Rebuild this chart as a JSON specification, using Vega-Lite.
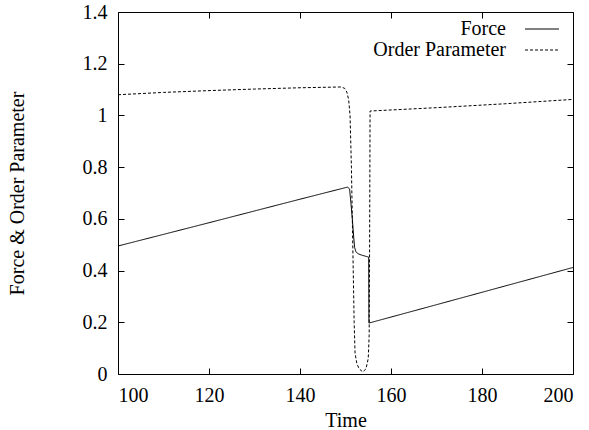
{
  "$schema": "https://vega.github.io/schema/vega-lite/v6.json",
  "width": 455,
  "height": 362,
  "autosize": {"type": "none"},
  "padding": {"left": 118, "top": 12, "right": 16, "bottom": 56},
  "background": "white",
  "config": {
    "font": "Liberation Serif",
    "view": {"stroke": null},
    "axis": {"grid": false, "domainColor": "black", "tickColor": "black", "labelColor": "black", "titleColor": "black", "labelFont": "Liberation Serif", "titleFont": "Liberation Serif", "labelFontSize": 20, "titleFontSize": 20, "titleFontWeight": "normal", "tickSize": -6, "domainWidth": 1, "tickWidth": 1},
    "legend": {"labelFont": "Liberation Serif", "labelFontSize": 20, "labelColor": "black"}
  },
  "data": {"values": [
    {"t": 100, "v": 0.495, "s": "Force"},
    {"t": 120, "v": 0.585, "s": "Force"},
    {"t": 140, "v": 0.676, "s": "Force"},
    {"t": 150.5, "v": 0.723, "s": "Force"},
    {"t": 150.9, "v": 0.715, "s": "Force"},
    {"t": 151.2, "v": 0.66, "s": "Force"},
    {"t": 151.5, "v": 0.6, "s": "Force"},
    {"t": 151.8, "v": 0.53, "s": "Force"},
    {"t": 152.0, "v": 0.49, "s": "Force"},
    {"t": 152.3, "v": 0.472, "s": "Force"},
    {"t": 152.8, "v": 0.465, "s": "Force"},
    {"t": 153.5, "v": 0.46, "s": "Force"},
    {"t": 154.5, "v": 0.455, "s": "Force"},
    {"t": 155.1, "v": 0.452, "s": "Force"},
    {"t": 155.15, "v": 0.197, "s": "Force"},
    {"t": 170, "v": 0.268, "s": "Force"},
    {"t": 185, "v": 0.34, "s": "Force"},
    {"t": 200, "v": 0.412, "s": "Force"},
    {"t": 100, "v": 1.08, "s": "Order Parameter"},
    {"t": 110, "v": 1.089, "s": "Order Parameter"},
    {"t": 120, "v": 1.096, "s": "Order Parameter"},
    {"t": 130, "v": 1.102, "s": "Order Parameter"},
    {"t": 140, "v": 1.107, "s": "Order Parameter"},
    {"t": 149.0, "v": 1.11, "s": "Order Parameter"},
    {"t": 149.8, "v": 1.105, "s": "Order Parameter"},
    {"t": 150.3, "v": 1.09, "s": "Order Parameter"},
    {"t": 150.7, "v": 1.06, "s": "Order Parameter"},
    {"t": 151.0, "v": 1.0, "s": "Order Parameter"},
    {"t": 151.3, "v": 0.8, "s": "Order Parameter"},
    {"t": 151.6, "v": 0.5, "s": "Order Parameter"},
    {"t": 151.9, "v": 0.2, "s": "Order Parameter"},
    {"t": 152.1, "v": 0.08, "s": "Order Parameter"},
    {"t": 152.5, "v": 0.04, "s": "Order Parameter"},
    {"t": 153.0, "v": 0.02, "s": "Order Parameter"},
    {"t": 153.8, "v": 0.008, "s": "Order Parameter"},
    {"t": 154.5, "v": 0.02, "s": "Order Parameter"},
    {"t": 155.0, "v": 0.06, "s": "Order Parameter"},
    {"t": 155.2, "v": 0.15, "s": "Order Parameter"},
    {"t": 155.3, "v": 0.5, "s": "Order Parameter"},
    {"t": 155.4, "v": 1.017, "s": "Order Parameter"},
    {"t": 170, "v": 1.03, "s": "Order Parameter"},
    {"t": 185, "v": 1.045, "s": "Order Parameter"},
    {"t": 200, "v": 1.062, "s": "Order Parameter"}
  ]},
  "layer": [
    {
      "transform": [{"filter": "datum.s === 'Force'"}],
      "mark": {"type": "line", "color": "black", "strokeWidth": 1},
      "encoding": {
        "x": {"field": "t", "type": "quantitative", "scale": {"domain": [100, 200], "nice": false}, "axis": {"title": "Time", "values": [100, 120, 140, 160, 180, 200], "labelFont": "Liberation Serif", "labelFontSize": 20, "labelPadding": 17, "titlePadding": 5, "orient": "bottom"}},
        "y": {"field": "v", "type": "quantitative", "scale": {"domain": [0, 1.4], "nice": false}, "axis": {"title": "Force & Order Parameter", "values": [0, 0.2, 0.4, 0.6, 0.8, 1, 1.2, 1.4], "format": ".1~f", "labelFont": "Liberation Serif", "labelFontSize": 20, "labelPadding": 17, "titlePadding": 55, "orient": "left"}},
        "strokeDash": {"field": "s", "type": "nominal", "scale": {"domain": ["Force", "Order Parameter"], "range": [[1, 0], [3, 2]]}, "legend": {"title": null, "orient": "none", "legendX": 414, "legendY": 7, "symbolType": "M-2.83,0H2.83", "symbolSize": 144, "symbolStrokeColor": "black", "symbolStrokeWidth": 1, "labelFont": "Liberation Serif", "labelFontSize": 20, "labelAlign": "right", "labelOffset": -46, "rowPadding": 1}},
        "order": {"field": "t", "type": "quantitative"}
      }
    },
    {
      "transform": [{"filter": "datum.s === 'Order Parameter'"}],
      "mark": {"type": "line", "color": "black", "strokeWidth": 1},
      "encoding": {
        "x": {"field": "t", "type": "quantitative", "scale": {"domain": [100, 200], "nice": false}, "axis": {"title": null, "labels": false, "values": [100, 120, 140, 160, 180, 200], "orient": "top"}},
        "y": {"field": "v", "type": "quantitative", "scale": {"domain": [0, 1.4], "nice": false}, "axis": {"title": null, "labels": false, "values": [0, 0.2, 0.4, 0.6, 0.8, 1, 1.2, 1.4], "orient": "right"}},
        "strokeDash": {"field": "s", "type": "nominal", "scale": {"domain": ["Force", "Order Parameter"], "range": [[1, 0], [3, 2]]}},
        "order": {"field": "t", "type": "quantitative"}
      }
    }
  ],
  "resolve": {"axis": {"x": "independent", "y": "independent"}}
}
